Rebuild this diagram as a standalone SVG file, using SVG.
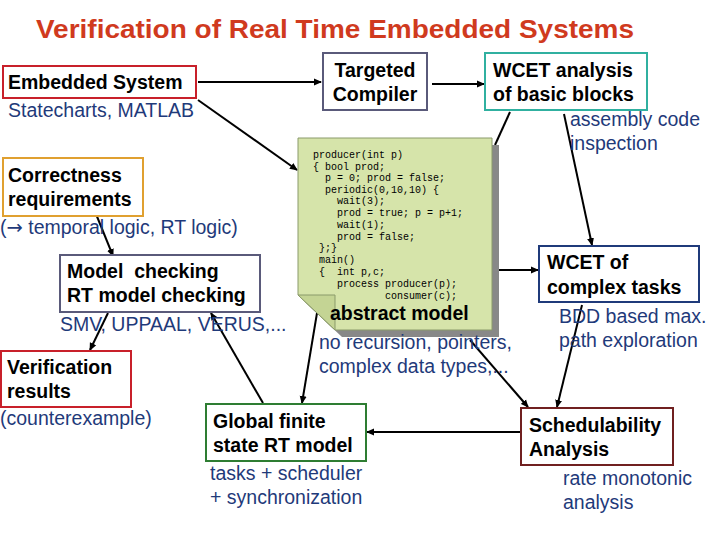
<svg xmlns="http://www.w3.org/2000/svg" width="720" height="540" viewBox="0 0 720 540">
<defs>
<marker id="ah" markerWidth="8" markerHeight="8" refX="7" refY="4" orient="auto" markerUnits="userSpaceOnUse"><path d="M0,0.5 L8,4 L0,7.5 z" fill="#000"/></marker>
<style>
.b{font-family:"Liberation Sans",Arial,sans-serif;font-weight:bold;font-size:19.5px;fill:#000}
.s{font-family:"Liberation Sans",Arial,sans-serif;font-size:19.5px;fill:#1f3a7a}
.m{font-family:"Liberation Mono","Courier New",monospace;font-size:10px;fill:#000}
.bx{fill:#fff;stroke-width:2}
.c{stroke:#000;stroke-width:2;fill:none}
</style>
</defs>
<rect width="720" height="540" fill="#fff"/>
<text x="335" y="38" text-anchor="middle" font-family="Liberation Sans,Arial,sans-serif" font-weight="bold" font-size="25" fill="#d03a1e" textLength="598" lengthAdjust="spacingAndGlyphs">Verification of Real Time Embedded Systems</text>
<g id="connectors">
<line class="c" x1="198" y1="82" x2="321" y2="82" marker-end="url(#ah)"/>
<line class="c" x1="432" y1="84" x2="484" y2="84" marker-end="url(#ah)"/>
<line class="c" x1="198" y1="100" x2="297" y2="170" marker-end="url(#ah)"/>
<line class="c" x1="510" y1="112" x2="495" y2="145"/>
<line class="c" x1="564" y1="114" x2="592" y2="245" marker-end="url(#ah)"/>
<line class="c" x1="96" y1="214" x2="113" y2="256" marker-end="url(#ah)"/>
<line class="c" x1="108" y1="313" x2="90" y2="350" marker-end="url(#ah)"/>
<line class="c" x1="263" y1="403" x2="211" y2="313" marker-end="url(#ah)"/>
<line class="c" x1="317" y1="313" x2="302" y2="403" marker-end="url(#ah)"/>
<line class="c" x1="497" y1="270" x2="538" y2="270" marker-end="url(#ah)"/>
<line class="c" x1="582" y1="305" x2="557" y2="407" marker-end="url(#ah)"/>
<line class="c" x1="470" y1="340" x2="528" y2="407" marker-end="url(#ah)"/>
<line class="c" x1="520" y1="432" x2="367" y2="432" marker-end="url(#ah)"/>
</g>
<g id="embedded">
<rect class="bx" x="3" y="66" width="193" height="32" stroke="#c8202a"/>
<text class="b" x="8" y="89">Embedded System</text>
<text class="s" x="8" y="117">Statecharts, MATLAB</text>
</g>
<g id="compiler">
<rect class="bx" x="323" y="53" width="104" height="57" stroke="#5a5a7a"/>
<text class="b" x="375" y="77" text-anchor="middle">Targeted</text>
<text class="b" x="375" y="101" text-anchor="middle">Compiler</text>
</g>
<g id="wcetbb">
<rect class="bx" x="485" y="53" width="162" height="57" stroke="#30b0a0"/>
<text class="b" x="493" y="77">WCET analysis</text>
<text class="b" x="493" y="101">of basic blocks</text>
<text class="s" x="570" y="126">assembly code</text>
<text class="s" x="570" y="150">inspection</text>
</g>
<g id="abstract">
<polygon points="305,145 499,145 499,337 342,337 305,302" fill="#888"/>
<polygon points="298,138 492,138 492,330 335,330 298,295" fill="#d6e4aa" stroke="#8a9a6a" stroke-width="1"/>
<polygon points="298,295 335,295 335,330" fill="#c4d494" stroke="#8a9a6a" stroke-width="1"/>
<text class="m" x="313" y="158" xml:space="preserve">producer(int p)</text>
<text class="m" x="313" y="170" xml:space="preserve">{ bool prod;</text>
<text class="m" x="313" y="181" xml:space="preserve">  p = 0; prod = false;</text>
<text class="m" x="313" y="193" xml:space="preserve">  periodic(0,10,10) {</text>
<text class="m" x="313" y="204" xml:space="preserve">    wait(3);</text>
<text class="m" x="313" y="216" xml:space="preserve">    prod = true; p = p+1;</text>
<text class="m" x="313" y="228" xml:space="preserve">    wait(1);</text>
<text class="m" x="313" y="240" xml:space="preserve">    prod = false;</text>
<text class="m" x="313" y="251" xml:space="preserve"> };}</text>
<text class="m" x="313" y="263" xml:space="preserve"> main()</text>
<text class="m" x="313" y="275" xml:space="preserve"> {  int p,c;</text>
<text class="m" x="313" y="287" xml:space="preserve">    process producer(p);</text>
<text class="m" x="313" y="299" xml:space="preserve">            consumer(c);</text>
<text class="b" x="330" y="320">abstract model</text>
<text class="s" x="319" y="349">no recursion, pointers,</text>
<text class="s" x="319" y="373">complex data types,...</text>
</g>
<g id="correctness">
<rect class="bx" x="3" y="158" width="140" height="58" stroke="#e0a030"/>
<text class="b" x="8" y="182">Correctness</text>
<text class="b" x="8" y="206">requirements</text>
<text class="s" x="0" y="234">(<tspan font-family="DejaVu Sans">→</tspan> temporal logic, RT logic)</text>
</g>
<g id="modelchecking">
<rect class="bx" x="60" y="255" width="200" height="57" stroke="#5a5a7a"/>
<text class="b" x="67" y="278" xml:space="preserve">Model  checking</text>
<text class="b" x="67" y="302">RT model checking</text>
<text class="s" x="60" y="331">SMV, UPPAAL, VERUS,...</text>
</g>
<g id="verification">
<rect class="bx" x="1" y="351" width="130" height="56" stroke="#c8202a"/>
<text class="b" x="7" y="374">Verification</text>
<text class="b" x="7" y="398">results</text>
<text class="s" x="0" y="425">(counterexample)</text>
</g>
<g id="global">
<rect class="bx" x="206" y="404" width="160" height="57" stroke="#2e7d32"/>
<text class="b" x="213" y="428">Global finite</text>
<text class="b" x="213" y="452">state RT model</text>
<text class="s" x="210" y="480">tasks + scheduler</text>
<text class="s" x="210" y="504">+ synchronization</text>
</g>
<g id="wcetct">
<rect class="bx" x="539" y="246" width="160" height="56" stroke="#1f3a7a"/>
<text class="b" x="547" y="269">WCET of</text>
<text class="b" x="547" y="294">complex tasks</text>
<text class="s" x="559" y="323">BDD based max.</text>
<text class="s" x="559" y="347">path exploration</text>
</g>
<g id="sched">
<rect class="bx" x="521" y="408" width="152" height="57" stroke="#702020"/>
<text class="b" x="529" y="432">Schedulability</text>
<text class="b" x="529" y="456">Analysis</text>
<text class="s" x="563" y="485">rate monotonic</text>
<text class="s" x="563" y="509">analysis</text>
</g>
</svg>
